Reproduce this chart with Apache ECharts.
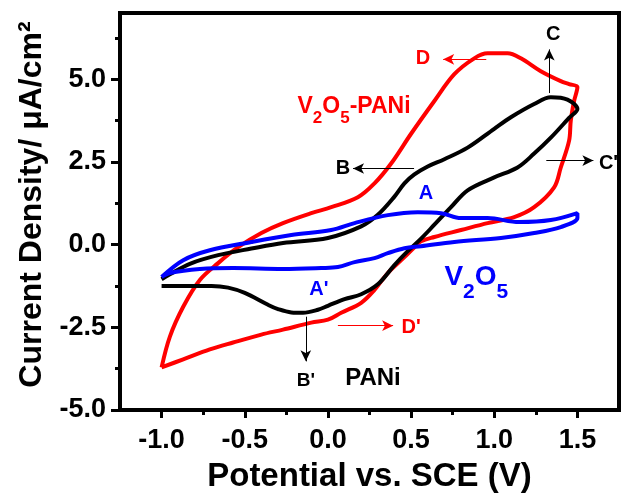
<!DOCTYPE html>
<html>
<head>
<meta charset="utf-8">
<script src="https://cdn.jsdelivr.net/npm/echarts@6/dist/echarts.min.js"></script>
<style>
  html, body { margin: 0; padding: 0; background: #fff; }
  #chart { width: 623px; height: 498px; }
</style>
</head>
<body>
<div id="chart"></div>
<script>
// 坐标刻度
const xTicks = [-1.0, -0.5, 0.0, 0.5, 1.0, 1.5];
const xMinorTicks = [-0.75, -0.25, 0.25, 0.75, 1.25];
const yTicks = [-5.0, -2.5, 0.0, 2.5, 5.0];
const yMinorTicks = [-3.75, -1.25, 1.25, 3.75, 6.25];

// V2O5-PANi (红色) 循环伏安曲线 [电位, 电流密度]
const compositeCV = [
  [-1.0, -3.71], [-0.95, -2.78], [-0.87, -1.88], [-0.77, -1.07], [-0.66, -0.56],
  [-0.54, -0.08], [-0.40, 0.35], [-0.27, 0.65], [-0.10, 0.95], [0.02, 1.13],
  [0.18, 1.43], [0.28, 1.85], [0.38, 2.45], [0.50, 3.35], [0.64, 4.34],
  [0.76, 5.15], [0.88, 5.63], [0.96, 5.78], [1.08, 5.78], [1.16, 5.63],
  [1.28, 5.24], [1.40, 4.94], [1.45, 4.85], [1.50, 4.76],
  [1.48, 4.34], [1.46, 3.74], [1.45, 3.14], [1.40, 2.33], [1.36, 1.73],
  [1.24, 1.13], [1.12, 0.83], [0.96, 0.65], [0.80, 0.44], [0.64, 0.23],
  [0.56, 0.10], [0.52, -0.08], [0.46, -0.38], [0.36, -0.86], [0.28, -1.37],
  [0.20, -1.76], [0.08, -2.06], [0.0, -2.27], [-0.10, -2.36], [-0.27, -2.57],
  [-0.40, -2.72], [-0.57, -2.96], [-0.71, -3.17], [-0.87, -3.47], [-1.0, -3.71]
];

// PANi (黑色)
const paniCV = [
  [-1.0, -1.05], [-0.95, -0.90], [-0.83, -0.58], [-0.66, -0.32], [-0.46, -0.12],
  [-0.27, 0.05], [0.0, 0.20], [0.20, 0.55], [0.30, 0.90], [0.40, 1.45],
  [0.46, 1.85], [0.52, 2.12], [0.60, 2.36], [0.70, 2.58], [0.84, 2.93],
  [1.00, 3.50], [1.10, 3.85], [1.24, 4.25], [1.34, 4.45], [1.44, 4.38], [1.50, 4.10],
  [1.45, 3.83], [1.34, 3.23], [1.24, 2.75], [1.14, 2.33], [1.00, 2.03],
  [0.84, 1.64], [0.74, 1.13], [0.64, 0.60], [0.56, 0.18], [0.48, -0.20],
  [0.40, -0.62], [0.30, -1.20], [0.20, -1.50], [0.10, -1.65], [0.0, -1.85],
  [-0.06, -1.97], [-0.15, -2.06], [-0.22, -2.05], [-0.30, -1.95], [-0.36, -1.82],
  [-0.50, -1.46], [-0.60, -1.30], [-0.70, -1.25], [-0.85, -1.25], [-1.0, -1.25]
];

// V2O5 (蓝色)
const v2o5CV = [
  [-1.0, -0.98], [-0.87, -0.47], [-0.71, -0.17], [-0.46, 0.08], [-0.22, 0.29],
  [0.02, 0.44], [0.16, 0.65], [0.36, 0.89], [0.54, 0.98], [0.68, 0.95],
  [0.80, 0.80], [0.96, 0.80], [1.15, 0.68], [1.34, 0.74], [1.50, 0.95],
  [1.50, 0.80], [1.40, 0.53], [1.24, 0.35], [1.04, 0.20], [0.76, 0.08],
  [0.56, -0.05], [0.46, -0.11], [0.36, -0.26], [0.28, -0.41], [0.16, -0.53],
  [0.06, -0.68], [-0.04, -0.71], [-0.27, -0.74], [-0.57, -0.71], [-0.77, -0.74],
  [-0.95, -0.86], [-1.0, -0.98]
];

// 标注文字 [文字, x, y, 颜色, 字号]
const notes = [
  ['{m|V}{s|2}{m|O}{s|5}{m|-PANi}', 0.157, 4.28, '#ff0000', 23],
  ['D', 0.572, 5.63, '#ff0000', 20],
  ['C', 1.355, 6.35, '#000', 20],
  ['B', 0.09, 2.30, '#000', 20],
  ["C'", 1.687, 2.45, '#000', 20],
  ['A', 0.59, 1.55, '#0000ff', 20],
  ["A'", -0.054, -1.37, '#0000ff', 20],
  ['{m|V}{s|2}{m|O}{s|5}', 0.892, -0.86, '#0000ff', 28],
  ["D'", 0.50, -2.51, '#ff0000', 20],
  ["B'", -0.133, -4.13, '#000', 19],
  ['PANi', 0.271, -4.04, '#000', 24]
];

// 箭头 [起点, 终点, 颜色]
const arrows = [
  [[0.952, 5.60], [0.693, 5.60], '#ff0000'],
  [[1.331, 4.58], [1.331, 5.90], '#000'],
  [[0.518, 2.30], [0.151, 2.30], '#000'],
  [[1.313, 2.54], [1.596, 2.54], '#000'],
  [[0.06, -2.45], [0.392, -2.45], '#ff0000'],
  [[-0.133, -2.18], [-0.133, -3.53], '#000']
];

const FONT = '"Liberation Sans", Arial, sans-serif';
const chart = echarts.init(document.getElementById('chart'));
const fmt = v => v.toFixed(1);

const arrowLines = (color) => arrows.filter(a => a[2] === color).map(a => [
  {coord: a[0]},
  {coord: a[1]}
]);

const makeSeries = (name, data, color) => ({
  name: name,
  type: 'line',
  data: data,
  showSymbol: false,
  smooth: 0.35,
  lineStyle: {color: color, width: 4},
  z: 3
});

const makeArrows = (color) => ({
  silent: true,
  symbol: ['none', 'arrow'],
  symbolSize: [8, 11],
  label: {show: false},
  emphasis: {disabled: true},
  lineStyle: {color: color, width: 1, type: 'solid'},
  data: arrowLines(color)
});

const option = {
  animation: false,
  backgroundColor: '#fff',
  grid: {left: 120, right: 4, top: 13, bottom: 87, show: true, borderColor: '#000', borderWidth: 4},
  xAxis: [{
    type: 'value', min: -1.25, max: 1.75,
    name: 'Potential vs. SCE (V)', nameLocation: 'middle', nameGap: 50,
    nameTextStyle: {fontFamily: FONT, fontWeight: 'bold', fontSize: 33, color: '#000'},
    axisLine: {show: true, onZero: false, lineStyle: {color: '#000', width: 4}},
    axisTick: {show: true, inside: false, length: 8, lineStyle: {width: 3, color: '#000'}, customValues: xTicks},
    axisLabel: {fontFamily: FONT, fontWeight: 'bold', fontSize: 27, color: '#000', margin: 17, customValues: xTicks, formatter: fmt},
    splitLine: {show: false}
  }, {
    type: 'value', min: -1.25, max: 1.75, position: 'bottom',
    axisLine: {show: false, onZero: false},
    axisTick: {show: true, inside: false, length: 5, lineStyle: {width: 3, color: '#000'}, customValues: xMinorTicks},
    axisLabel: {show: false},
    splitLine: {show: false}
  }],
  yAxis: [{
    type: 'value', min: -5, max: 7,
    name: 'Current Density/ μA/cm²', nameLocation: 'middle', nameGap: 72,
    nameTextStyle: {fontFamily: FONT, fontWeight: 'bold', fontSize: 32, color: '#000', padding: [0, 0, 0, 14]},
    axisLine: {show: true, onZero: false, lineStyle: {color: '#000', width: 4}},
    axisTick: {show: true, inside: false, length: 9, lineStyle: {width: 3, color: '#000'}, customValues: yTicks},
    axisLabel: {fontFamily: FONT, fontWeight: 'bold', fontSize: 27, color: '#000', margin: 14, customValues: yTicks, formatter: fmt},
    splitLine: {show: false}
  }, {
    type: 'value', min: -5, max: 7, position: 'left',
    axisLine: {show: false, onZero: false},
    axisTick: {show: true, inside: false, length: 5, lineStyle: {width: 3, color: '#000'}, customValues: yMinorTicks},
    axisLabel: {show: false},
    splitLine: {show: false}
  }],
  series: [
    Object.assign(makeSeries('V2O5-PANi', compositeCV, '#ff0000'), {markLine: makeArrows('#ff0000')}),
    Object.assign(makeSeries('PANi', paniCV, '#000000'), {markLine: makeArrows('#000')}),
    makeSeries('V2O5', v2o5CV, '#0000ff')
  ]
};
chart.setOption(option);

// 标注文字放到数据坐标
const graphics = notes.map(n => {
  const p = chart.convertToPixel({xAxisIndex: 0, yAxisIndex: 0}, [n[1], n[2]]);
  return {
    type: 'text', x: p[0], y: p[1], z: 10,
    style: {
      text: n[0], fill: n[3], align: 'center', verticalAlign: 'middle',
      font: 'bold ' + n[4] + 'px ' + FONT,
      rich: {
        m: {fontSize: n[4], fontWeight: 'bold', fontFamily: FONT, fill: n[3], verticalAlign: 'bottom', lineHeight: n[4] * 1.3},
        s: {fontSize: Math.round(n[4] * 0.75), fontWeight: 'bold', fontFamily: FONT, fill: n[3], verticalAlign: 'bottom', padding: [0, 0, -n[4] * 0.4, 0], lineHeight: n[4] * 1.3}
      }
    }
  };
});
chart.setOption({graphic: graphics});
</script>
</body>
</html>
